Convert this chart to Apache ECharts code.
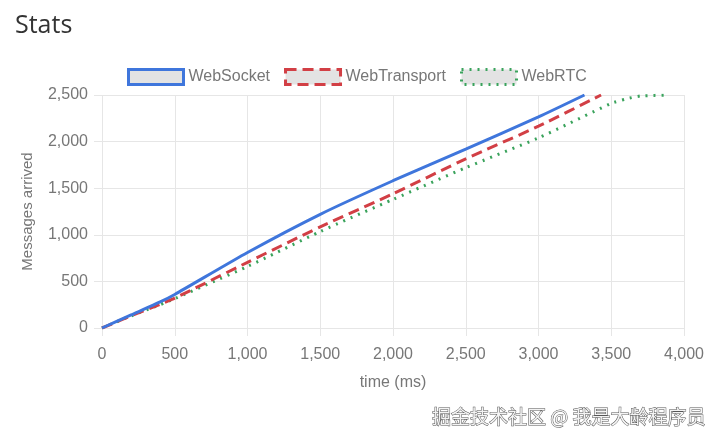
<!DOCTYPE html>
<html>
<head>
<meta charset="utf-8">
<script src="https://cdn.jsdelivr.net/npm/echarts@6/dist/echarts.min.js"></script>
<style>
  html, body { margin: 0; padding: 0; background: #fff; }
  #chart { width: 723px; height: 444px; }
</style>
</head>
<body>
<div id="chart"></div>
<script>
// [time ms, messages arrived]
const seriesNames = ['WebSocket', 'WebTransport', 'WebRTC'];
const webSocket = [[0,0],[200,140],[400,280],[500,360],[1000,810],[1500,1220],[2000,1580],[2500,1920],[3000,2265],[3316,2500]];
const webTransport = [[0,0],[200,130],[400,255],[500,320],[1000,705],[1500,1085],[2000,1440],[2500,1815],[3000,2165],[3430,2500]];
const webRTC = [[0,0],[200,130],[400,250],[500,315],[1000,660],[1500,1035],[2000,1380],[2500,1720],[3000,2040],[3500,2410],[3600,2457],[3700,2489],[3900,2500]];
const colors = ['#3f76dc', '#d23f45', '#3aa35c'];
const lineTypes = ['solid', [11, 6], [2, 6]];

const gridColor = '#e6e6e6';
const textColor = '#777';
const font = '"Liberation Sans", Arial, sans-serif';

const allData = [webSocket, webTransport, webRTC];

const option = {
  animation: false,
  title: {
    text: 'Stats', left: 10, top: 8,
    textStyle: { fontSize: 25, fontWeight: 'normal', color: '#333', fontFamily: '"Open Sans", "Noto Sans", sans-serif' }
  },
  legend: {
    top: 63, left: 122,
    itemWidth: 55, itemHeight: 15, itemGap: 14,
    icon: 'rect',
    textStyle: { color: textColor, fontSize: 16, fontFamily: font },
    data: seriesNames.map((n, i) => ({
      name: n,
      itemStyle: { color: '#e3e3e3', borderColor: colors[i], borderWidth: 3, borderType: lineTypes[i] }
    }))
  },
  grid: { left: 102, right: 39, top: 95, bottom: 116 },
  xAxis: {
    type: 'value', min: 0, max: 4000, interval: 500,
    name: 'time (ms)', nameLocation: 'middle', nameGap: 47,
    nameTextStyle: { color: textColor, fontSize: 16, fontFamily: font },
    axisLine: { show: false },
    axisTick: { show: true, length: 8, lineStyle: { color: gridColor } },
    axisLabel: { color: textColor, fontSize: 16, fontFamily: font, margin: 19 },
    splitLine: { show: true, lineStyle: { color: gridColor } }
  },
  yAxis: {
    type: 'value', min: 0, max: 2500, interval: 500,
    name: 'Messages arrived', nameLocation: 'middle', nameGap: 67,
    nameTextStyle: { color: textColor, fontSize: 15, fontFamily: font },
    axisLine: { show: false },
    axisTick: { show: true, length: 8, lineStyle: { color: gridColor } },
    axisLabel: { color: textColor, fontSize: 16, fontFamily: font, margin: 14 },
    splitLine: { show: true, lineStyle: { color: gridColor } }
  },
  series: seriesNames.map((n, i) => ({
    name: n, type: 'line', data: allData[i],
    showSymbol: false, symbol: 'none', smooth: 0.2,
    itemStyle: { color: colors[i] },
    lineStyle: { color: colors[i], width: 3, type: lineTypes[i] },
    z: 3 - i
  })),
  graphic: [{
    type: 'text', right: 17, top: 407,
    style: {
      text: '掘金技术社区 @ 我是大龄程序员',
      fill: '#f4f4f4', stroke: '#555', lineWidth: 1,
      font: '19px "Noto Sans CJK SC", sans-serif'
    }
  }]
};

const chart = echarts.init(document.getElementById('chart'));
chart.setOption(option);
window.addEventListener('resize', function () { chart.resize(); });
</script>
</body>
</html>
